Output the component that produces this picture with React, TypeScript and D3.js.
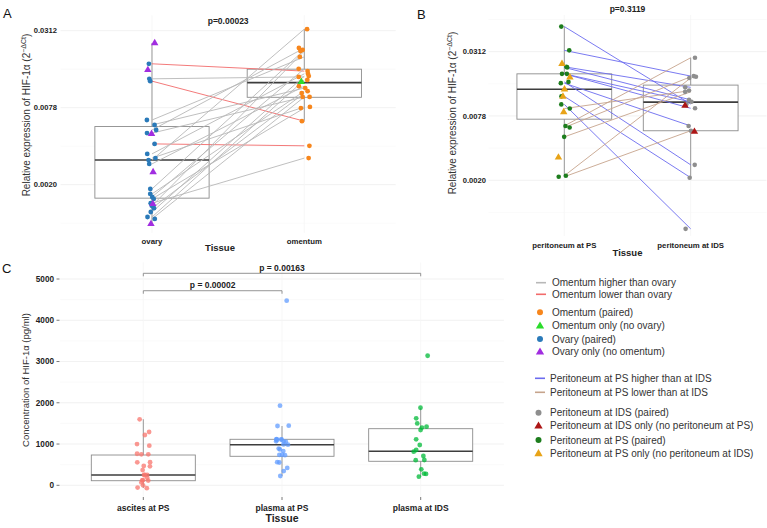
import React from "react";
import * as d3 from "d3";

const FONT = "'Liberation Sans', Arial, Helvetica, sans-serif";

// ---------- Panel A: HIF-1α, ovary vs omentum (stored as ΔCt; expression = 2^-ΔCt)
const tissueA = ["ovary", "omentum"];
const ovaryPairedDct = [5.86, 6.25, 6.31, 7.32, 7.45, 7.58, 7.66, 7.94, 8.2, 8.36, 8.31, 8.46, 9.11, 9.24, 9.32, 9.37, 9.48, 9.55, 9.61, 9.71, 9.84, 9.89];
const omentumPairedDct = [6.05, 6.2, 7.35, 5.68, 6.49, 5.45, 6.72, 7.99, 6.12, 4.96, 6.98, 6.44, 5.5, 6.57, 5.99, 7.01, 8.31, 5.53, 6.62, 6.18, 6.28, 6.72];
const ovaryOnlyDct = [5.32, 6.02, 7.68, 8.67, 9.5, 10.02];
const omentumOnlyDct = [6.33];
// box summaries in ΔCt: [whisker end, hinge, median, hinge, whisker end]
const ovaryBoxDct = [5.32, 7.49, 8.36, 9.35, 10.0];
const omentumBoxDct = [4.96, 6.0, 6.35, 6.73, 7.34];
const pValueA = "p=0.00023";

// ---------- Panel B: HIF-1α, peritoneum at PS vs at IDS
const tissueB = ["peritoneum at PS", "peritoneum at IDS"];
const psPairedDct = [4.22, 4.96, 5.47, 5.49, 5.69, 5.69, 5.94, 5.98, 6.39, 6.64, 6.77, 7.31, 7.36, 7.65, 8.86, 8.89];
const idsPairedDct = [6.63, 5.76, 6.11, 6.5, 6.56, 6.76, 8.52, 7.31, 8.92, 10.51, 6.21, 5.19, 5.78, 6.25, 5.82, 7.46];
const psOnlyDct = [5.38, 5.8, 6.17, 6.4, 6.88, 8.29];
const idsOnlyDct = [6.68, 7.49];
const psBoxDct = [4.22, 5.69, 6.17, 7.1, 8.89];
const idsBoxDct = [5.19, 6.04, 6.57, 7.46, 8.92];
const pValueB = "p=0.3119";

// shared relative-expression axis (ticks placed at ΔCt = 5, 7, 9)
const dctTicks = [5, 7, 9];
const dctTickLabels = ["0.0312", "0.0078", "0.0020"];

// ---------- Panel C: HIF-1α concentration (pg/ml)
const sampleC = ["ascites at PS", "plasma at PS", "plasma at IDS"];
const ascitesPS = [1600, 1292, 1219, 960, 1000, 750, 750, 765, 557, 560, 460, 470, 370, 250, 250, 255, 180, 120, 125, 115, 70, 0, -55, -70];
const plasmaPS = [4475, 1930, 1437, 1445, 1110, 1115, 1105, 1120, 1100, 1060, 1055, 1065, 990, 985, 890, 830, 870, 735, 740, 730, 553, 560, 420, 345, 225];
const plasmaIDS = [3140, 1880, 1624, 1500, 1420, 1400, 1340, 1115, 977, 855, 815, 710, 613, 610, 388, 281, 275, 208];
const ascitesBox = [-65, 111, 250, 734, 1600];
const plasmaPSBox = [225, 703, 984, 1115, 1437];
const plasmaIDSBox = [208, 582, 824, 1372, 1873];
const concTicks = [0, 1000, 2000, 3000, 4000, 5000];
const comparisonPairs = [[0, 1], [0, 2]];
const comparisonLabels = ["p = 0.00002", "p = 0.00163"];
const comparisonHeights = [4716, 5138];

const COL = {
  ovary: "#2a7ab9",
  ovaryOnly: "#a12de0",
  omentum: "#f7861c",
  omentumOnly: "#2bdc2b",
  lineUp: "#b8b8b8",
  lineDown: "#f26b6b",
  ids: "#8e8e8e",
  idsOnly: "#ad1616",
  ps: "#1d7d1d",
  psOnly: "#e8a317",
  psHigher: "#6b6bef",
  psLower: "#c6a48c",
  ascites: "#f8766d",
  plasmaPS: "#619cff",
  plasmaIDS: "#00ba38",
};

const tri = d3.symbol().type(d3.symbolTriangle).size(24)() as string;
const triLegend = d3.symbol().type(d3.symbolTriangle).size(30)() as string;

function jitterer(seed: number, amp: number) {
  const r = d3.randomLcg(seed);
  return () => (r() * 2 - 1) * amp;
}

function Box({ cx, width, y, stats }: { cx: number; width: number; y: (v: number) => number; stats: number[] }) {
  const [a, b, m, c, e] = stats.map(y);
  const top = Math.min(b, c);
  return (
    <g>
      <line x1={cx} x2={cx} y1={a} y2={e} stroke="#8c8c8c" strokeWidth={0.9} />
      <rect x={cx - width / 2} y={top} width={width} height={Math.abs(c - b)} fill="#fff" stroke="#8c8c8c" strokeWidth={0.9} />
      <line x1={cx - width / 2} x2={cx + width / 2} y1={m} y2={m} stroke="#3d3d3d" strokeWidth={1.6} />
    </g>
  );
}

function Grid({ x0, x1, y, major, minor, xs, y0, y1 }: any) {
  return (
    <g>
      {minor.map((t: number, i: number) => (
        <line key={"mi" + i} x1={x0} x2={x1} y1={y(t)} y2={y(t)} stroke="#f6f6f6" strokeWidth={0.6} />
      ))}
      {major.map((t: number, i: number) => (
        <line key={"ma" + i} x1={x0} x2={x1} y1={y(t)} y2={y(t)} stroke="#eeeeee" strokeWidth={0.8} />
      ))}
      {xs.map((x: number, i: number) => (
        <line key={"v" + i} x1={x} x2={x} y1={y0} y2={y1} stroke="#f5f5f5" strokeWidth={0.8} />
      ))}
    </g>
  );
}

function ExprTitle({ x, y }: { x: number; y: number }) {
  return (
    <text transform={`translate(${x},${y}) rotate(-90)`} textAnchor="middle" fontSize={10} fill="#333" fontFamily={FONT}>
      Relative expression of HIF-1α (2
      <tspan dy={-4} fontSize={7}>−ΔCt</tspan>
      <tspan dy={4}>)</tspan>
    </text>
  );
}

function PanelA() {
  const x = d3.scalePoint<string>().domain(tissueA).range([60.6, 395.7]).padding(0.6);
  const y = d3.scaleLinear().domain([4.6, 10.25]).range([15.3, 232.8]);
  const xo = x("ovary")!;
  const xm = x("omentum")!;
  const bw = x.step() * 0.75;
  const j = jitterer(11, 6);
  const ovJ = ovaryPairedDct.map(() => j());
  const omJ = omentumPairedDct.map(() => j());
  const ovOJ = ovaryOnlyDct.map(() => j());
  const omOJ = omentumOnlyDct.map(() => j());
  return (
    <g>
      <Grid x0={60.6} x1={395.7} y={y} major={dctTicks} minor={[6, 8, 10]} xs={[xo, xm]} y0={15.3} y1={232.8} />
      <Box cx={xo} width={bw} y={y} stats={ovaryBoxDct} />
      <Box cx={xm} width={bw} y={y} stats={omentumBoxDct} />
      {ovaryPairedDct.map((v, i) => (
        <line key={"l" + i} x1={xo} y1={y(v)} x2={xm} y2={y(omentumPairedDct[i])}
          stroke={omentumPairedDct[i] < v ? COL.lineUp : COL.lineDown} strokeWidth={0.9} />
      ))}
      {ovaryPairedDct.map((v, i) => (
        <circle key={"o" + i} cx={xo + ovJ[i]} cy={y(v)} r={2.4} fill={COL.ovary} />
      ))}
      {ovaryOnlyDct.map((v, i) => (
        <path key={"ot" + i} d={tri} transform={`translate(${xo + ovOJ[i]},${y(v)})`} fill={COL.ovaryOnly} />
      ))}
      {omentumPairedDct.map((v, i) => (
        <circle key={"m" + i} cx={xm + omJ[i]} cy={y(v)} r={2.4} fill={COL.omentum} />
      ))}
      {omentumOnlyDct.map((v, i) => (
        <path key={"mt" + i} d={tri} transform={`translate(${xm + omOJ[i]},${y(v)})`} fill={COL.omentumOnly} />
      ))}
      {dctTicks.map((t, i) => (
        <text key={"t" + i} x={57} y={y(t) + 2.7} textAnchor="end" fontSize={7.6} fontWeight="bold" fill="#222" fontFamily={FONT}>
          {dctTickLabels[i]}
        </text>
      ))}
      {tissueA.map((c) => (
        <text key={c} x={x(c)} y={244} textAnchor="middle" fontSize={7.8} fontWeight="bold" fill="#222" fontFamily={FONT}>{c}</text>
      ))}
      <text x={(xo + xm) / 2} y={24} textAnchor="middle" fontSize={8.5} fontWeight="bold" fill="#222" fontFamily={FONT}>{pValueA}</text>
      <text x={220} y={251} textAnchor="middle" fontSize={9.5} fontWeight="bold" fill="#222" fontFamily={FONT}>Tissue</text>
      <ExprTitle x={29.5} y={115} />
      <text x={3} y={18} fontSize={13} fill="#111" fontFamily={FONT}>A</text>
    </g>
  );
}

function PanelB() {
  const x = d3.scalePoint<string>().domain(tissueB).range([488.5, 766.5]).padding(0.6);
  const y = d3.scaleLinear().domain([3.86, 10.73]).range([15, 235.9]);
  const xp = x(tissueB[0])!;
  const xi = x(tissueB[1])!;
  const bw = x.step() * 0.75;
  const j = jitterer(29, 6);
  const psJ = psPairedDct.map(() => j());
  const idJ = idsPairedDct.map(() => j());
  const psOJ = psOnlyDct.map(() => j());
  const idOJ = idsOnlyDct.map(() => j());
  return (
    <g>
      <Grid x0={488.5} x1={766.5} y={y} major={dctTicks} minor={[4, 6, 8, 10]} xs={[xp, xi]} y0={15} y1={235.9} />
      <Box cx={xp} width={bw} y={y} stats={psBoxDct} />
      <Box cx={xi} width={bw} y={y} stats={idsBoxDct} />
      {psPairedDct.map((v, i) => (
        <line key={"l" + i} x1={xp} y1={y(v)} x2={xi} y2={y(idsPairedDct[i])}
          stroke={v < idsPairedDct[i] ? COL.psHigher : COL.psLower} strokeWidth={0.9} />
      ))}
      {idsPairedDct.map((v, i) => (
        <circle key={"i" + i} cx={xi + idJ[i]} cy={y(v)} r={2.3} fill={COL.ids} />
      ))}
      {idsOnlyDct.map((v, i) => (
        <path key={"it" + i} d={tri} transform={`translate(${xi + idOJ[i]},${y(v)})`} fill={COL.idsOnly} />
      ))}
      {psPairedDct.map((v, i) => (
        <circle key={"p" + i} cx={xp + psJ[i]} cy={y(v)} r={2.3} fill={COL.ps} />
      ))}
      {psOnlyDct.map((v, i) => (
        <path key={"pt" + i} d={tri} transform={`translate(${xp + psOJ[i]},${y(v)})`} fill={COL.psOnly} />
      ))}
      {dctTicks.map((t, i) => (
        <text key={"t" + i} x={486} y={y(t) + 2.7} textAnchor="end" fontSize={7.6} fontWeight="bold" fill="#222" fontFamily={FONT}>
          {dctTickLabels[i]}
        </text>
      ))}
      {tissueB.map((c) => (
        <text key={c} x={x(c)} y={248} textAnchor="middle" fontSize={7.8} fontWeight="bold" fill="#222" fontFamily={FONT}>{c}</text>
      ))}
      <text x={(xp + xi) / 2} y={12} textAnchor="middle" fontSize={8.5} fontWeight="bold" fill="#222" fontFamily={FONT}>{pValueB}</text>
      <text x={(xp + xi) / 2} y={256} textAnchor="middle" fontSize={9.5} fontWeight="bold" fill="#222" fontFamily={FONT}>Tissue</text>
      <ExprTitle x={456} y={113} />
      <text x={417} y={19} fontSize={13} fill="#111" fontFamily={FONT}>B</text>
    </g>
  );
}

function PanelC() {
  const x = d3.scalePoint<string>().domain(sampleC).range([60.1, 503.9]).padding(0.6);
  const y = d3.scaleLinear().domain([-280, 5400]).range([496.85, 262.5]);
  const bw = x.step() * 0.75;
  const groups = [
    { vals: ascitesPS, box: ascitesBox, color: COL.ascites },
    { vals: plasmaPS, box: plasmaPSBox, color: COL.plasmaPS },
    { vals: plasmaIDS, box: plasmaIDSBox, color: COL.plasmaIDS },
  ];
  const j = jitterer(7, 7);
  const minor = d3.range(0, 5500, 500).filter((v) => v % 1000 !== 0);
  return (
    <g>
      <Grid x0={60.1} x1={503.9} y={y} major={concTicks} minor={minor} xs={sampleC.map((c) => x(c)!)} y0={262.5} y1={496.85} />
      {groups.map((g, gi) => (
        <Box key={"b" + gi} cx={x(sampleC[gi])!} width={bw} y={y} stats={g.box} />
      ))}
      {groups.map((g, gi) =>
        g.vals.map((v, i) => (
          <circle key={gi + "-" + i} cx={x(sampleC[gi])! + j()} cy={y(v)} r={2.4} fill={g.color} fillOpacity={0.75} />
        ))
      )}
      {comparisonPairs.map(([a, b], i) => {
        const x1 = x(sampleC[a])!;
        const x2 = x(sampleC[b])!;
        const yy = y(comparisonHeights[i]);
        return (
          <g key={"cmp" + i}>
            <path d={`M${x1},${yy + 3}V${yy}H${x2}V${yy + 3}`} fill="none" stroke="#888" strokeWidth={0.9} />
            <text x={(x1 + x2) / 2} y={yy - 2.3} textAnchor="middle" fontSize={8.5} fontWeight="bold" fill="#222" fontFamily={FONT}>
              {comparisonLabels[i]}
            </text>
          </g>
        );
      })}
      {concTicks.map((t) => (
        <g key={"yt" + t}>
          <line x1={56.5} x2={59.5} y1={y(t)} y2={y(t)} stroke="#555" strokeWidth={0.8} />
          <text x={54} y={y(t) + 2.9} textAnchor="end" fontSize={8.2} fontWeight="bold" fill="#222" fontFamily={FONT}>{t}</text>
        </g>
      ))}
      {sampleC.map((c) => (
        <g key={c}>
          <line x1={x(c)} x2={x(c)} y1={497} y2={500} stroke="#555" strokeWidth={0.8} />
          <text x={x(c)} y={511} textAnchor="middle" fontSize={8.5} fontWeight="bold" fill="#222" fontFamily={FONT}>{c}</text>
        </g>
      ))}
      <text x={x(sampleC[1])} y={522} textAnchor="middle" fontSize={10.5} fontWeight="bold" fill="#222" fontFamily={FONT}>Tissue</text>
      <text transform="translate(29,380) rotate(-90)" textAnchor="middle" fontSize={9.5} fill="#333" fontFamily={FONT}>
        Concentration of HIF-1α (pg/ml)
      </text>
      <text x={2} y={273} fontSize={13} fill="#111" fontFamily={FONT}>C</text>
    </g>
  );
}

const legendItems = [
  { kind: "line", color: COL.lineUp, label: "Omentum higher than ovary", y: 282.7, mx: 541, tx: 552 },
  { kind: "line", color: COL.lineDown, label: "Omentum lower than ovary", y: 294.3, mx: 541, tx: 552 },
  { kind: "dot", color: COL.omentum, label: "Omentum (paired)", y: 312.3, mx: 540, tx: 552 },
  { kind: "tri", color: COL.omentumOnly, label: "Omentum only (no ovary)", y: 325.7, mx: 540, tx: 552 },
  { kind: "dot", color: COL.ovary, label: "Ovary (paired)", y: 339, mx: 540, tx: 552 },
  { kind: "tri", color: COL.ovaryOnly, label: "Ovary only (no omentum)", y: 351.7, mx: 540, tx: 552 },
  { kind: "line", color: COL.psHigher, label: "Peritoneum at PS higher than at IDS", y: 378.3, mx: 540, tx: 550 },
  { kind: "line", color: COL.psLower, label: "Peritoneum at PS lower than at IDS", y: 392.3, mx: 540, tx: 550 },
  { kind: "dot", color: COL.ids, label: "Peritoneum at IDS (paired)", y: 412.7, mx: 538.5, tx: 550 },
  { kind: "tri", color: COL.idsOnly, label: "Peritoneum at IDS only (no peritoneum at PS)", y: 425.7, mx: 538.5, tx: 550 },
  { kind: "dot", color: COL.ps, label: "Peritoneum at PS (paired)", y: 440, mx: 538.5, tx: 550 },
  { kind: "tri", color: COL.psOnly, label: "Peritoneum at PS only (no peritoneum at IDS)", y: 453.3, mx: 538.5, tx: 550 },
];

function Legend() {
  return (
    <g fontFamily={FONT}>
      {legendItems.map((it, i) => (
        <g key={i}>
          {it.kind === "line" && (
            <line x1={it.mx - 5} x2={it.mx + 5} y1={it.y} y2={it.y} stroke={it.color} strokeWidth={1.6} />
          )}
          {it.kind === "dot" && <circle cx={it.mx} cy={it.y} r={3} fill={it.color} />}
          {it.kind === "tri" && <path d={triLegend} transform={`translate(${it.mx},${it.y + 0.5})`} fill={it.color} />}
          <text x={it.tx} y={it.y + 3.5} fontSize={10} fill="#333">{it.label}</text>
        </g>
      ))}
    </g>
  );
}

export default function App() {
  return (
    <svg width={767} height={528} viewBox="0 0 767 528" style={{ position: "absolute", left: 0, top: 0, background: "#fff" }}>
      <rect x={0} y={0} width={767} height={528} fill="#fff" />
      <PanelA />
      <PanelB />
      <PanelC />
      <Legend />
    </svg>
  );
}
